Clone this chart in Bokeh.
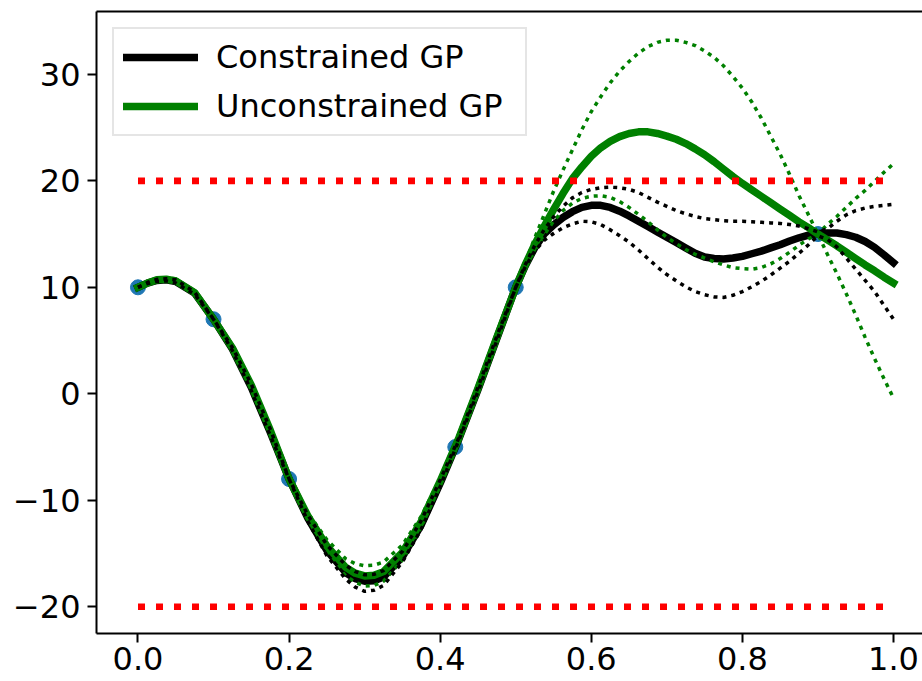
from bokeh.plotting import figure
from bokeh.models import Range1d, LinearAxis, FixedTicker, Legend, LegendItem, NumeralTickFormatter
from bokeh.embed import file_html
from bokeh.resources import INLINE

# Observations
x_obs = [0.0, 0.1, 0.2, 0.42, 0.5, 0.9]
y_obs = [10.0, 7.0, -8.0, -5.0, 10.0, 15.0]

# Evaluation grid (denser where the posteriors spread out)
x_grid = [0.0, 0.0125, 0.025, 0.0375, 0.05, 0.075, 0.1, 0.125, 0.15, 0.175,
          0.2, 0.225, 0.25, 0.275, 0.2875, 0.3, 0.3125, 0.325, 0.35, 0.375,
          0.4, 0.425, 0.45, 0.475,
          0.5, 0.5125, 0.525, 0.5375, 0.55, 0.5625, 0.575, 0.5875,
          0.6, 0.6125, 0.625, 0.6375, 0.65, 0.6625, 0.675, 0.6875,
          0.7, 0.7125, 0.725, 0.7375, 0.75, 0.7625, 0.775, 0.7875,
          0.8, 0.8125, 0.825, 0.8375, 0.85, 0.8625, 0.875, 0.8875,
          0.9, 0.9125, 0.925, 0.9375, 0.95, 0.9625, 0.975, 0.9875, 1.0]

# Unconstrained GP: mean and band edges
unc_mean = [10.0, 10.4, 10.7, 10.75, 10.6, 9.5, 7.0, 4.3, 0.8, -3.4,
            -8.0, -11.5, -14.3, -16.3, -16.85, -17.1, -17.05, -16.7, -14.9, -12.0,
            -8.2, -4.1, 0.5, 5.3,
            10.0, 12.1, 14.0, 15.7, 17.3, 18.8, 20.2, 21.3,
            22.3, 23.1, 23.7, 24.15, 24.45, 24.6, 24.6, 24.45,
            24.2, 23.9, 23.5, 23.0, 22.45, 21.8, 21.1, 20.4,
            19.75, 19.15, 18.55, 17.95, 17.35, 16.75, 16.15, 15.6,
            15.0, 14.45, 13.9, 13.3, 12.7, 12.1, 11.55, 10.95, 10.4]
unc_upper = [10.0, 10.45, 10.8, 10.85, 10.8, 9.65, 7.0, 4.45, 1.1, -3.1,
             -8.0, -11.2, -13.7, -15.5, -15.95, -16.15, -16.1, -15.8, -14.2, -11.5,
             -7.9, -4.0, 0.7, 5.5,
             10.0, 12.3, 14.6, 16.8, 19.0, 21.0, 22.9, 24.8,
             26.5, 27.9, 29.2, 30.3, 31.2, 32.0, 32.6, 33.0,
             33.2, 33.2, 33.0, 32.7, 32.2, 31.6, 30.8, 29.8,
             28.7, 27.4, 25.9, 24.2, 22.5, 20.6, 18.6, 16.8,
             15.0, 13.1, 11.3, 9.4, 7.4, 5.3, 3.3, 1.4, -0.4]
unc_lower = [10.0, 10.35, 10.6, 10.65, 10.4, 9.35, 7.0, 4.15, 0.5, -3.7,
             -8.0, -11.8, -14.9, -17.1, -17.7, -18.05, -18.0, -17.6, -15.6, -12.5,
             -8.5, -4.2, 0.3, 5.1,
             10.0, 11.8, 13.4, 14.9, 16.2, 17.2, 17.9, 18.35,
             18.55, 18.6, 18.45, 18.05, 17.5, 16.85, 16.15, 15.4,
             14.7, 14.1, 13.55, 13.1, 12.75, 12.4, 12.1, 11.85,
             11.75, 11.7, 11.85, 12.2, 12.7, 13.3, 13.95, 14.55,
             15.0, 15.9, 16.65, 17.5, 18.35, 19.1, 19.95, 20.8, 21.6]

# Constrained GP: mean and band edges
con_mean = [10.0, 10.4, 10.65, 10.7, 10.55, 9.45, 7.0, 4.2, 0.6, -3.6,
            -8.0, -11.7, -14.7, -16.8, -17.35, -17.6, -17.55, -17.2, -15.3, -12.3,
            -8.4, -4.2, 0.4, 5.2,
            10.0, 12.0, 13.7, 15.0, 15.85, 16.55, 17.1, 17.5,
            17.7, 17.7, 17.5, 17.15, 16.7, 16.2, 15.7, 15.2,
            14.7, 14.2, 13.7, 13.2, 12.85, 12.7, 12.65, 12.75,
            12.9, 13.15, 13.4, 13.7, 14.0, 14.35, 14.65, 14.9,
            15.05, 15.1, 15.1, 14.95, 14.7, 14.3, 13.75, 13.05, 12.3]
con_upper = [10.0, 10.45, 10.75, 10.8, 10.7, 9.55, 7.0, 4.35, 0.9, -3.3,
             -8.0, -11.4, -14.2, -16.1, -16.7, -17.0, -16.95, -16.6, -14.8, -11.9,
             -8.1, -4.1, 0.6, 5.4,
             10.0, 12.1, 13.9, 15.4, 16.6, 17.6, 18.4, 18.9,
             19.2, 19.35, 19.4, 19.35, 19.2, 18.9, 18.45, 18.0,
             17.6, 17.2, 16.9, 16.65, 16.45, 16.35, 16.25, 16.2,
             16.2, 16.15, 16.1, 16.05, 16.0, 15.9, 15.75, 15.5,
             15.2, 15.5, 16.2, 16.8, 17.2, 17.45, 17.6, 17.7, 17.8]
con_lower = [10.0, 10.35, 10.55, 10.6, 10.4, 9.35, 7.0, 4.05, 0.3, -3.9,
             -8.0, -12.0, -15.2, -17.4, -18.15, -18.55, -18.45, -18.0, -15.8, -12.7,
             -8.7, -4.3, 0.2, 5.0,
             10.0, 11.9, 13.4, 14.4, 15.05, 15.6, 15.95, 16.2,
             16.15, 15.9, 15.4, 14.85, 14.25, 13.5, 12.7, 11.9,
             11.2, 10.6, 10.05, 9.6, 9.3, 9.1, 9.05, 9.25,
             9.6, 10.05, 10.55, 11.15, 11.8, 12.45, 13.2, 14.0,
             14.85, 14.5, 13.8, 12.75, 11.7, 10.65, 9.6, 8.3, 7.0]

# Bounds imposed on the constrained model
bound_x = [0.0, 1.0]
upper_bound = [20.0, 20.0]
lower_bound = [-20.0, -20.0]

x_ticks = [0.0, 0.2, 0.4, 0.6, 0.8, 1.0]
y_ticks = [-20, -10, 0, 10, 20, 30]
y_tick_labels = {-20: "\u221220", -10: "\u221210"}

for series in (unc_mean, unc_upper, unc_lower, con_mean, con_upper, con_lower):
    if len(series) != len(x_grid):
        raise ValueError("series length does not match grid")

FONT = "DejaVu Sans"
FONT_SIZE = "32px"

p = figure(width=922, height=681, output_backend="svg", toolbar_location=None,
           x_range=Range1d(-0.0549, 1.0384), y_range=Range1d(-22.51, 35.90),
           x_axis_type=None, y_axis_type=None,
           min_border_left=96, min_border_right=0,
           min_border_top=11, min_border_bottom=48)
p.outline_line_color = None
p.background_fill_color = "white"
p.border_fill_color = "white"


def style_axis(ax):
    ax.axis_line_color = "black"
    ax.axis_line_width = 2
    ax.major_tick_line_color = "black"
    ax.major_tick_line_width = 2
    ax.major_tick_in = 0
    ax.major_tick_out = 9
    ax.minor_tick_line_color = None
    ax.major_label_text_font = FONT
    ax.major_label_text_font_size = FONT_SIZE
    ax.major_label_text_color = "black"


xaxis = LinearAxis(ticker=FixedTicker(ticks=x_ticks),
                   formatter=NumeralTickFormatter(format="0.0"))
style_axis(xaxis)
xaxis.major_label_standoff = 4
p.add_layout(xaxis, "below")

yaxis = LinearAxis(ticker=FixedTicker(ticks=y_ticks))
style_axis(yaxis)
yaxis.major_label_standoff = 7
yaxis.major_label_overrides = y_tick_labels
p.add_layout(yaxis, "left")

# top spine only
top = LinearAxis(ticker=FixedTicker(ticks=[]))
top.axis_line_color = "black"
top.axis_line_width = 2
top.major_tick_line_color = None
top.minor_tick_line_color = None
top.major_tick_in = 0
top.major_tick_out = 0
top.major_label_standoff = 0
top.major_label_text_font_size = "0px"
p.add_layout(top, "above")

p.scatter(x_obs, y_obs, size=15, color="#1f77b4")

THICK = 7.5
THIN = 3.5
DOT = "4 5"

r_con = p.line(x_grid, con_mean, line_color="black", line_width=THICK,
               line_join="round", line_cap="square")
r_unc = p.line(x_grid, unc_mean, line_color="green", line_width=THICK,
               line_join="round", line_cap="square")
for band in (unc_upper, unc_lower):
    p.line(x_grid, band, line_color="green", line_width=THIN, line_dash=DOT)
for band in (con_upper, con_lower):
    p.line(x_grid, band, line_color="black", line_width=THIN, line_dash=DOT)

p.line(bound_x, upper_bound, line_color="red", line_width=6.7, line_dash="7 11")
p.line(bound_x, lower_bound, line_color="red", line_width=6.7, line_dash="7 11")

legend = Legend(items=[LegendItem(label="Constrained GP", renderers=[r_con]),
                       LegendItem(label="Unconstrained GP", renderers=[r_unc])],
                location="top_left", margin=16, padding=9, spacing=11,
                glyph_width=75, glyph_height=38, label_height=38,
                label_width=300, label_standoff=18,
                label_text_font=FONT, label_text_font_size=FONT_SIZE,
                label_text_color="black",
                border_line_color="#cccccc", border_line_width=2,
                background_fill_color="white", background_fill_alpha=0.8)
p.add_layout(legend)

open("out.html", "w").write(file_html(p, INLINE))
